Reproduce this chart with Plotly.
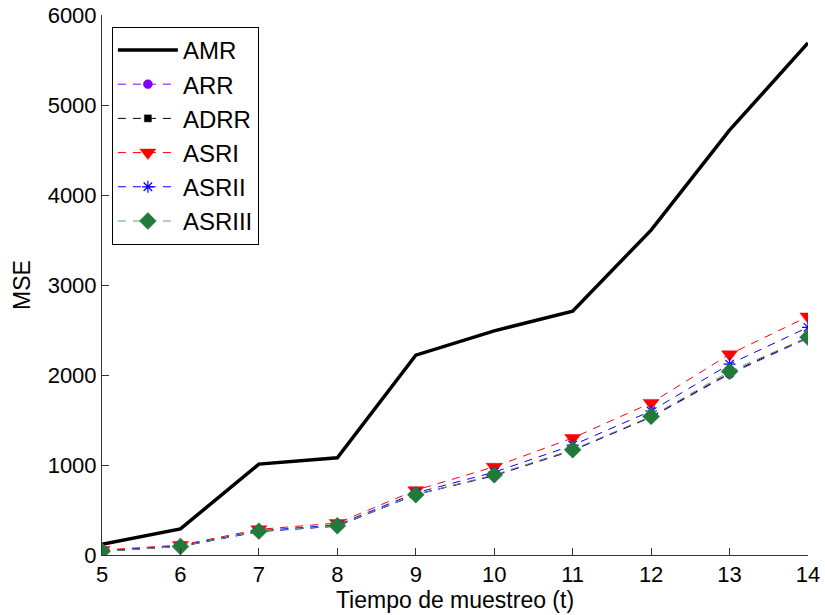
import plotly.graph_objects as go

t = [5, 6, 7, 8, 9, 10, 11, 12, 13, 14]
AMR = [120, 290, 1010, 1080, 2220, 2490, 2710, 3610, 4720, 5690]
ARR = [40, 95, 260, 320, 670, 880, 1160, 1530, 2010, 2410]
ADRR = [40, 95, 262, 322, 672, 885, 1165, 1535, 2020, 2420]
ASRI = [55, 110, 285, 355, 720, 980, 1300, 1690, 2230, 2650]
ASRII = [45, 100, 270, 335, 690, 920, 1220, 1600, 2120, 2530]
ASRIII = [40, 95, 265, 325, 670, 890, 1170, 1540, 2040, 2420]
yticks = [0, 1000, 2000, 3000, 4000, 5000, 6000]

FONT = "Liberation Sans, Arial, sans-serif"

fig = go.Figure()
fig.add_trace(go.Scatter(x=t, y=AMR, name="AMR", mode="lines",
                         line=dict(color="black", width=3.5)))
specs = [
    ("ARR", ARR, "#7f00ff", "#7f00ff", "circle", 9),
    ("ADRR", ADRR, "black", "black", "square", 7),
    ("ASRI", ASRI, "#ff0000", "#ff0000", "triangle-down", 14),
    ("ASRII", ASRII, "#0000ff", "#0000ff", "asterisk-open", 10),
    ("ASRIII", ASRIII, "#5f9f7f", "#217a3a", "diamond", 13),
]
for name, y, lc, mc, sym, sz in specs:
    fig.add_trace(go.Scatter(
        x=t, y=y, name=name, mode="lines+markers",
        line=dict(color=lc, width=1, dash="8px,7px"),
        marker=dict(symbol=sym, size=sz, color=mc,
                    line=dict(color=mc, width=1.2 if sym == "asterisk-open" else 0.5))))

tick_font = dict(family=FONT, size=22, color="black")
title_font = dict(family=FONT, size=23, color="black")
fig.update_layout(
    width=825, height=615,
    margin=dict(l=102, r=17, t=15, b=60),
    paper_bgcolor="white", plot_bgcolor="white",
    font=dict(family=FONT, color="black"),
    showlegend=True,
    legend=dict(x=0.014, y=0.978, xanchor="left", yanchor="top",
                bordercolor="black", borderwidth=1, bgcolor="white",
                font=dict(family=FONT, size=24, color="black"),
                itemwidth=60, tracegroupgap=0,
                entrywidth=150, entrywidthmode="pixels"),
    xaxis=dict(range=[5, 14], tickvals=t, ticks="inside", ticklen=7,
               tickcolor="#333", showline=True, linecolor="#333", linewidth=1,
               showgrid=False, zeroline=False, automargin=False,
               title=dict(text="Tiempo de muestreo (t)", standoff=0, font=title_font),
               tickfont=tick_font),
    yaxis=dict(range=[0, 6000], tickvals=yticks,
               ticks="inside", ticklen=7, tickcolor="#333",
               showline=True, linecolor="#333", linewidth=1,
               showgrid=False, zeroline=False, automargin=False,
               title=dict(text="MSE", standoff=10, font=title_font),
               tickfont=tick_font),
)
fig.write_html("out.html")
